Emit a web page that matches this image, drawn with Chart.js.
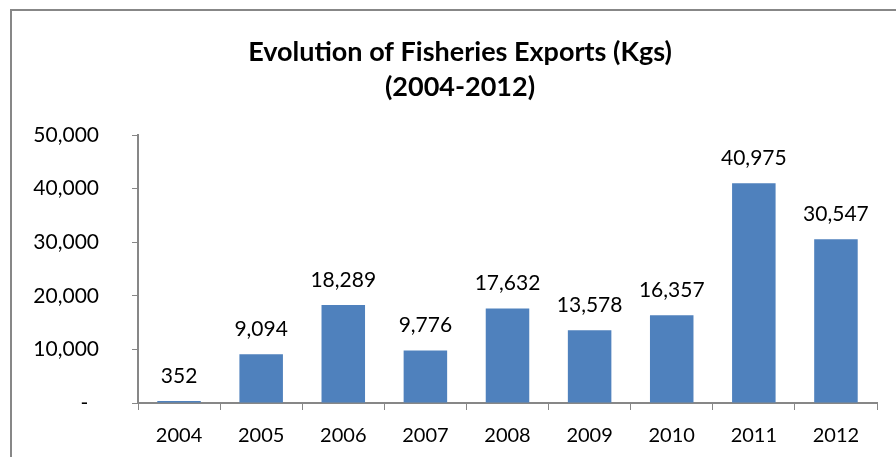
<!DOCTYPE html>
<html>
<head>
<meta charset="utf-8">
<title>Evolution of Fisheries Exports</title>
<script src="https://cdn.jsdelivr.net/npm/chart.js@4/dist/chart.umd.min.js"></script>
<style>
  html, body { margin: 0; padding: 0; background: #fff; }
  canvas { display: block; }
</style>
</head>
<body>
<canvas id="exportsChart" width="896" height="457"></canvas>
<script>
// data
const years = ['2004', '2005', '2006', '2007', '2008', '2009', '2010', '2011', '2012'];
const exportsKg = [352, 9094, 18289, 9776, 17632, 13578, 16357, 40975, 30547];
const yTicks = [0, 10000, 20000, 30000, 40000, 50000];
const titleLines = ['Evolution of Fisheries Exports (Kgs)', '(2004-2012)'];

const FONT = 'Lato, "Open Sans", sans-serif';
const AXIS_GREY = '#878787';
const BAR_BLUE = '#4F81BD';

function fmt(v) {
  // excel accounting style: zero shows as a dash
  if (v === 0) return '-  ';
  return v.toLocaleString('en-US');
}

// grey frame + title; title is centred on the frame, not on the plot
const framePlugin = {
  id: 'frame',
  beforeDraw(chart) {
    const ctx = chart.ctx;
    ctx.save();
    ctx.strokeStyle = AXIS_GREY;
    ctx.lineWidth = 2;
    ctx.strokeRect(11, 10, chart.width + 20, chart.height + 20);

    ctx.fillStyle = '#000';
    ctx.font = 'bold 27px ' + FONT;
    ctx.textAlign = 'center';
    ctx.textBaseline = 'middle';
    titleLines.forEach((line, i) => {
      ctx.fillText(line, 460, 52 + i * 35);
    });
    ctx.restore();
  }
};

// value labels over each bar
const valueLabels = {
  id: 'valueLabels',
  afterDatasetsDraw(chart) {
    const ctx = chart.ctx;
    const meta = chart.getDatasetMeta(0);
    ctx.save();
    ctx.font = '21px ' + FONT;
    ctx.fillStyle = '#000';
    ctx.textAlign = 'center';
    ctx.textBaseline = 'middle';
    meta.data.forEach((bar, i) => {
      ctx.fillText(exportsKg[i].toLocaleString('en-US'), bar.x, bar.y - 25);
    });
    ctx.restore();
  }
};

new Chart(document.getElementById('exportsChart'), {
  type: 'bar',
  data: {
    labels: years,
    datasets: [{
      data: exportsKg,
      backgroundColor: BAR_BLUE,
      borderWidth: 0,
      categoryPercentage: 1,
      barPercentage: 0.53
    }]
  },
  options: {
    responsive: false,
    animation: false,
    layout: { padding: { left: 0, right: 19, top: 135, bottom: 0 } },
    plugins: {
      legend: { display: false },
      tooltip: { enabled: false },
      title: { display: false }
    },
    scales: {
      x: {
        grid: {
          display: true,
          offset: true,
          drawOnChartArea: false,
          drawTicks: true,
          tickLength: 7,
          color: AXIS_GREY
        },
        border: { display: true, color: AXIS_GREY, width: 2 },
        ticks: {
          color: '#000',
          font: { family: FONT, size: 20 },
          padding: 14,
          maxRotation: 0
        },
        afterFit(scale) { scale.height = 54; }
      },
      y: {
        min: 0,
        max: 50000,
        afterBuildTicks(scale) {
          scale.ticks = yTicks.map(v => ({ value: v }));
        },
        grid: {
          display: true,
          drawOnChartArea: false,
          drawTicks: true,
          tickLength: 6,
          color: AXIS_GREY
        },
        border: { display: true, color: AXIS_GREY, width: 2 },
        ticks: {
          color: '#000',
          font: { family: FONT, size: 21 },
          padding: 33,
          callback: (v) => fmt(v)
        },
        afterFit(scale) { scale.width = 138; }
      }
    }
  },
  plugins: [framePlugin, valueLabels]
});
</script>
</body>
</html>
